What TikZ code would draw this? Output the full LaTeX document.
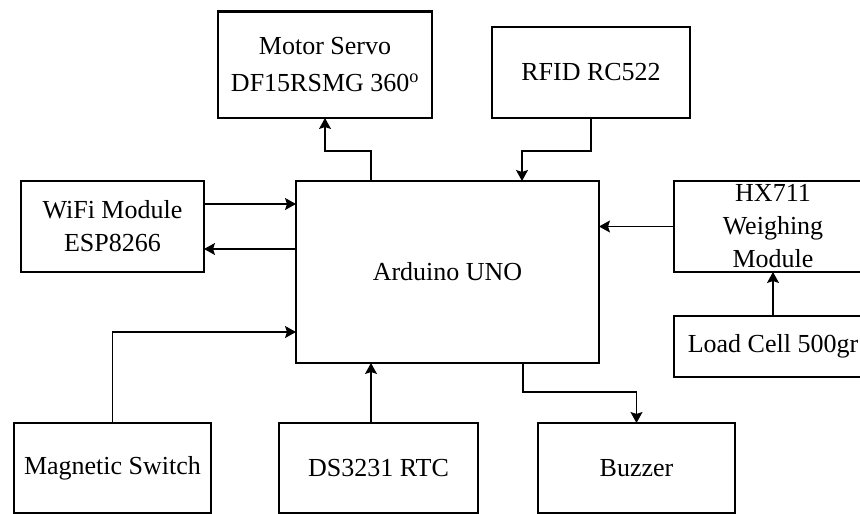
\documentclass[tikz,border=0pt]{standalone}
\usepackage{fontspec}
\setmainfont{Liberation Serif}
\usetikzlibrary{arrows.meta, positioning}

\begin{document}
\begin{tikzpicture}[
    x=1pt, y=-1pt,
    line width=1.1pt,
    block/.style = {rectangle, draw, align=center, inner sep=1pt, outer sep=0pt, minimum width=198pt, minimum height=91pt, font=\fontsize{26}{33}\selectfont},
    >={Stealth[length=11pt, width=12pt, inset=2pt]}]

    \path[use as bounding box, clip] (0,0) rectangle (860,514);

    \node[block, minimum width=303pt, minimum height=182pt] (A) at (447.5,272) {Arduino UNO};
    \node[block, minimum width=214pt, minimum height=107pt] (B) at (325,64.5) {Motor Servo\\[4pt]DF15RSMG 360\textsuperscript{o}};
    \node[block] (C) at (591,72.5) {RFID RC522};
    \node[block, minimum width=183pt] (D) at (112.5,226.5) {WiFi Module\\ESP8266};
    \node[block] (E) at (773,226.5) {HX711\\Weighing\\Module};
    \node[block, minimum height=61pt, below=44pt of E] (F) {Load Cell 500gr};
    \node[block, minimum width=197pt, minimum height=90pt] (G) at (112.5,468) {Magnetic Switch};
    \node[block, minimum width=199pt, minimum height=90pt, right=68pt of G] (H) {DS3231 RTC};
    \node[block, minimum width=197pt, minimum height=90pt, right=60pt of H] (I) {Buzzer};
    \draw[line width=3pt] (B.north west) -- (B.north east);

    \draw[->] ([xshift=-76.5pt]A.north) -- ++(0,-30) -| (B.south);
    \draw[->] (C.south) -- ++(0,33) -| ([xshift=74.5pt]A.north);
    \draw[->] ([yshift=22.5pt]D.east) coordinate (d1) -- (d1 -| A.west);
    \draw[<-] ([yshift=-22.5pt]D.east) coordinate (d2) -- (d2 -| A.west);
    \draw[->] (E.west) -- (E.west -| A.east);
    \draw[->] (F.north) -- (E.south);
    \draw[->] (G.north) |- ([yshift=-60pt]A.west);
    \draw[<-] ([xshift=-76.5pt]A.south) coordinate (h1) -- (h1 |- H.north);
    \draw[->] ([xshift=75.5pt]A.south) -- ++(0,29) -| (I.north);
\end{tikzpicture}
\end{document}
